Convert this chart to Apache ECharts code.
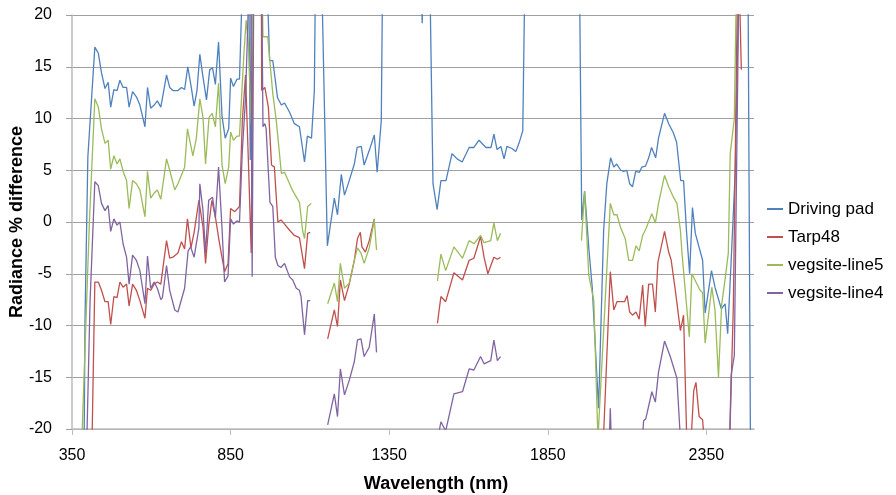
<!DOCTYPE html>
<html>
<head>
<meta charset="utf-8">
<script src="https://cdn.jsdelivr.net/npm/echarts@6/dist/echarts.min.js"></script>
<style>
html,body{margin:0;padding:0;background:#fff;}
#chart{width:896px;height:495px;}
</style>
</head>
<body>
<div id="chart"></div>
<script>
// ---- data (wavelength nm, radiance % difference); '-' marks a gap ----
const seriesNames = ['Driving pad', 'Tarp48', 'vegsite-line5', 'vegsite-line4'];
const xTickLabels = [350, 850, 1350, 1850, 2350];
const yTickLabels = [-20, -15, -10, -5, 0, 5, 10, 15, 20];

const drivingPad = [
[384,-40],[391,-9.5],[400,6.3],[422,16.9],[433,16.3],[443,14.4],[454,12.9],[464,13.5],[472,11.1],[482,12.8],[492,12.7],[501,13.7],[511,13.0],[522,13.0],[530,11.1],[541,12.6],[553,12.1],[564,11.3],[580,9.2],[588,13.0],[598,11.0],[609,11.3],[619,11.7],[630,11.1],[648,14.2],[658,13.0],[668,12.7],[684,12.7],[695,13.0],[705,12.8],[715,15.0],[726,13.0],[735,11.2],[744,12.7],[753,16.2],[763,14.0],[774,11.8],[784,14.7],[793,14.9],[802,13.3],[812,17.4],[823,10.2],[833,8.1],[844,9.0],[850,13.9],[859,13.1],[870,13.8],[878,13.8],[892,28],[905,32],[912,6],[918,30],[935,35],[950,30],[962,26],[973,15.6],[983,15.6],[998,12.0],[1010,11.3],[1020,11.5],[1036,10.6],[1051,9.5],[1067,9.2],[1083,5.8],[1092,8.3],[1105,8.1],[1114,12.7],[1124,45],[1130,60],[1139,21],[1155,-2.3],[1177,2.3],[1187,0.7],[1199,4.6],[1209,2.6],[1224,4.0],[1240,5.6],[1249,7.2],[1262,7.3],[1271,5.5],[1287,6.9],[1303,8.4],[1312,4.8],[1325,9.8],[1334,40],[1400,60],[1446,30],[1454,19.2],[1461,30],[1470,40],[1488,3.7],[1501,1.2],[1513,4.0],[1529,4.0],[1548,6.6],[1564,6.1],[1580,5.8],[1602,7.2],[1617,7.2],[1633,7.9],[1655,7.2],[1671,7.2],[1680,8.5],[1690,7.0],[1702,7.3],[1712,6.1],[1721,7.3],[1737,7.1],[1749,6.8],[1759,7.6],[1771,8.8],[1785,40],[1870,60],[1945,40],[1957,0.2],[1966,3.0],[1980,-2.8],[1990,-6.3],[2010,-18],[2026,-0.8],[2036,3.7],[2048,6.2],[2058,5.3],[2067,5.6],[2080,5.0],[2089,4.9],[2099,5.0],[2108,3.7],[2117,3.4],[2127,4.9],[2139,4.8],[2146,5.3],[2158,5.4],[2168,6.2],[2177,7.2],[2190,6.2],[2199,8.1],[2218,10.5],[2231,9.5],[2246,8.6],[2256,7.7],[2269,4.0],[2278,4.0],[2287,-0.8],[2297,-5.0],[2306,1.4],[2315,-1.1],[2338,-3.7],[2346,-8.8],[2366,-4.7],[2377,-6.3],[2397,-8.4],[2409,-7.9],[2417,-10.8],[2429,-3.1],[2441,5],[2455,28],[2466,30],[2480,30],[2492,-40]
];

const tarp48 = [
[408,-30],[422,-5.8],[433,-5.8],[443,-6.6],[454,-7.7],[464,-7.7],[472,-9.9],[482,-7.2],[492,-7.3],[501,-5.8],[511,-6.3],[522,-6.0],[530,-8.1],[541,-6.0],[553,-6.6],[564,-7.6],[580,-9.3],[588,-6.4],[598,-6.6],[609,-6.0],[619,-5.8],[630,-6.0],[648,-1.8],[658,-3.5],[668,-3.4],[684,-3.0],[695,-1.9],[705,-2.6],[714,0.3],[725,-2.5],[735,-1.0],[750,2.1],[763,-0.5],[771,-4.0],[781,-0.3],[791,2.1],[802,0.5],[812,-1.5],[821,-3.1],[831,-4.8],[842,-4.0],[850,1.3],[863,1.0],[878,1.5],[887,9.8],[897,14.2],[906,6],[915,-3],[925,40],[945,40],[948,12.7],[958,13.0],[969,11.1],[979,5.5],[988,5.3],[999,0.0],[1009,0.2],[1020,-0.2],[1036,-0.8],[1051,-1.3],[1067,-1.5],[1083,-4.5],[1093,-1.1],[1101,-1.0],
[1130,'-'],
[1156,-11.3],[1177,-8.5],[1187,-10.1],[1196,-5.6],[1209,-7.6],[1224,-6.0],[1240,-3.7],[1250,-1.6],[1259,-1.0],[1264,-2.4],[1275,-2.9],[1287,-1.8],[1303,0.3],
[1400,'-'],
[1502,-9.8],[1513,-7.2],[1528,-7.7],[1554,-4.9],[1581,-5.6],[1602,-3.7],[1617,-3.5],[1638,-1.4],[1649,-3.4],[1661,-5.0],[1680,-3.4],[1691,-3.6],[1701,-3.4],
[1850,'-'],
[2026,-20.5],[2047,-4.8],[2058,-8.5],[2068,-7.7],[2084,-7.7],[2092,-7.7],[2100,-7.1],[2108,-8.7],[2117,-9.0],[2128,-8.7],[2138,-9.4],[2149,-6.1],[2157,-10.1],[2168,-6.0],[2180,-6.0],[2189,-8.7],[2197,-3.9],[2218,-0.9],[2231,-2.9],[2239,-3.7],[2252,-6.6],[2268,-10.5],[2278,-9.0],[2288,-21],[2300,-22],[2310,-16.3],[2317,-15.5],[2327,-18.8],[2338,-19.1],[2345,-22],[2400,-30],[2420,-25],[2435,-8],[2450,28],[2460,14.7]
];

const vegsiteLine5 = [
[380,-22],[405,0.1],[422,11.9],[433,11.1],[443,9.0],[454,7.6],[464,7.9],[472,5.1],[482,6.4],[492,5.6],[501,6.1],[511,4.9],[522,4.0],[530,1.3],[541,4.0],[553,3.7],[564,3.1],[580,0.5],[588,4.9],[598,2.3],[609,2.8],[619,3.1],[630,2.2],[648,6.1],[658,5.0],[674,3.1],[684,3.7],[705,5.3],[714,9.0],[731,6.4],[742,8.1],[753,11.9],[763,10.1],[771,5.6],[782,10.1],[792,10.5],[802,9.2],[812,13.4],[823,5.5],[833,3.7],[844,5.3],[850,8.7],[859,7.9],[870,8.3],[878,8.3],[892,16.3],[899,19.5],[906,17.3],[915,9.5],[925,40],[940,40],[952,17.9],[967,17.9],[983,12.4],[994,9.8],[1010,4.7],[1020,4.8],[1046,3.0],[1067,1.9],[1077,-0.8],[1083,-1.6],[1093,1.5],[1104,1.8],
[1130,'-'],
[1156,-7.9],[1177,-5.9],[1187,-7.7],[1196,-4.0],[1209,-6.4],[1224,-5.9],[1240,-3.7],[1250,-2.5],[1261,-3.0],[1271,-4.0],[1287,-2.5],[1303,0.2],[1310,-2.7],
[1400,'-'],
[1502,-5.7],[1513,-3.1],[1528,-4.7],[1554,-2.4],[1581,-3.5],[1602,-1.8],[1617,-2.1],[1638,-1.3],[1649,-2.0],[1670,-1.8],[1680,-0.1],[1691,-1.8],[1701,-1.1],
[1850,'-'],
[1956,-1.8],[1966,3.0],[1979,-5.1],[1995,-7.6],[2008,-21],[2047,1.8],[2058,0.7],[2068,0.7],[2079,-0.5],[2094,-1.6],[2105,-3.7],[2117,-3.7],[2128,-2.3],[2138,-2.8],[2149,-1.3],[2160,-0.6],[2178,0.8],[2189,-0.1],[2199,1.8],[2218,4.5],[2231,3.4],[2246,2.4],[2257,1.8],[2268,-0.8],[2273,-3.0],[2296,-11.1],[2304,-5.0],[2330,-6.6],[2338,-6.8],[2346,-11.7],[2367,-6.3],[2377,-8.5],[2388,-15.0],[2398,-8.0],[2409,-5.5],[2419,-3.0],[2425,6.6],[2438,10.0],[2448,30],[2470,40]
];

const vegsiteLine4 = [
[390,-30],[407,-7.6],[422,3.9],[433,3.5],[443,1.8],[454,1.1],[464,1.6],[472,-0.9],[482,0.3],[492,-0.3],[501,0.0],[511,-2.1],[522,-3.4],[530,-6.0],[541,-3.2],[553,-3.7],[564,-4.7],[580,-7.9],[588,-3.3],[598,-6.4],[609,-5.8],[619,-6.4],[630,-7.5],[635,-7.3],[648,-4.2],[658,-6.6],[674,-8.5],[684,-8.7],[705,-6.4],[716,-2.8],[724,-2.4],[735,-3.4],[750,-0.6],[753,3.7],[763,1.1],[771,-3.0],[781,2.1],[793,2.4],[802,0.4],[812,5.3],[823,-0.6],[831,-5.8],[842,-5.2],[850,0.3],[859,-0.2],[870,0.1],[878,0.0],[887,6.9],[897,11.9],[905,20],[912,35],[918,-5.3],[925,35],[945,35],[952,9.2],[958,9.5],[962,9.0],[974,1.9],[983,1.5],[991,-3.4],[999,-4.2],[1009,-4.4],[1020,-4.0],[1036,-5.3],[1046,-5.6],[1057,-6.4],[1067,-6.6],[1072,-7.2],[1083,-10.9],[1093,-7.6],[1101,-7.6],
[1130,'-'],
[1156,-19.6],[1177,-16.6],[1187,-18.8],[1196,-14.2],[1209,-16.7],[1224,-15.3],[1240,-13.5],[1250,-11.4],[1261,-11.3],[1271,-13.0],[1287,-12.1],[1303,-8.9],[1310,-12.6],
[1400,'-'],
[1497,-22],[1513,-19.3],[1528,-20.2],[1554,-16.6],[1581,-16.4],[1602,-14.2],[1617,-14.3],[1638,-13.0],[1649,-13.7],[1670,-13.4],[1680,-11.4],[1691,-13.4],[1701,-13.0],
[1850,'-'],
[2040,-25],[2047,-18.0],[2054,-25],[2140,-25],[2152,-19.2],[2159,-19.0],[2178,-16.4],[2189,-17.4],[2199,-14.5],[2218,-11.5],[2236,-13.0],[2257,-15.1],[2268,-21],[2300,-30],[2420,-25],[2428,-14.8],[2438,-12.9],[2455,30]
];

const seriesData = [drivingPad, tarp48, vegsiteLine5, vegsiteLine4];
const seriesColors = ['#4F81BD', '#C0504D', '#9BBB59', '#8064A2'];

const FONT = 'Liberation Sans';
const chart = echarts.init(document.getElementById('chart'), null, {renderer: 'canvas'});
chart.setOption({
  animation: false,
  backgroundColor: '#fff',
  grid: {left: 72, right: 142, top: 15, bottom: 66, containLabel: false},
  legend: {
    orient: 'vertical', left: 762, top: 195, padding: 5,
    icon: 'rect', itemWidth: 16, itemHeight: 2, itemGap: 10,
    textStyle: {fontFamily: FONT, fontSize: 17, color: '#000', lineHeight: 18},
    data: seriesNames
  },
  xAxis: {
    type: 'value', min: 350, max: 2500, interval: 500,
    axisLine: {onZero: false, lineStyle: {color: '#bdbdbd', width: 1.5}},
    axisTick: {show: true, length: 6, lineStyle: {color: '#bdbdbd'}, customValues: xTickLabels},
    axisLabel: {fontFamily: FONT, fontSize: 16, color: '#000', margin: 19, customValues: xTickLabels,
      formatter: v => String(v)},
    splitLine: {show: false}
  },
  yAxis: {
    type: 'value', min: -20, max: 20, interval: 5,
    axisLine: {show: true, lineStyle: {color: '#bdbdbd', width: 1.5}},
    axisTick: {show: true, length: 6, lineStyle: {color: '#a0a0a0'}},
    axisLabel: {fontFamily: FONT, fontSize: 16, color: '#000', margin: 20,
      customValues: yTickLabels, formatter: v => String(v)},
    splitLine: {show: true, lineStyle: {color: '#a0a0a0', width: 1}}
  },
  graphic: [
    {type: 'text', x: 436, y: 484, style: {text: 'Wavelength (nm)', fontFamily: FONT, fontSize: 18, fontWeight: 'bold', fill: '#000', align: 'center', verticalAlign: 'middle'}},
    {type: 'text', x: 17, y: 222, rotation: Math.PI/2, style: {text: 'Radiance % difference', fontFamily: FONT, fontSize: 18, fontWeight: 'bold', fill: '#000', align: 'center', verticalAlign: 'middle'}}
  ],
  series: seriesNames.map((n, i) => ({
    name: n, type: 'line', data: seriesData[i], showSymbol: false, symbol: 'none',
    clip: true, connectNulls: false,
    lineStyle: {color: seriesColors[i], width: 1.3},
    itemStyle: {color: seriesColors[i]}
  }))
});
</script>
</body>
</html>
